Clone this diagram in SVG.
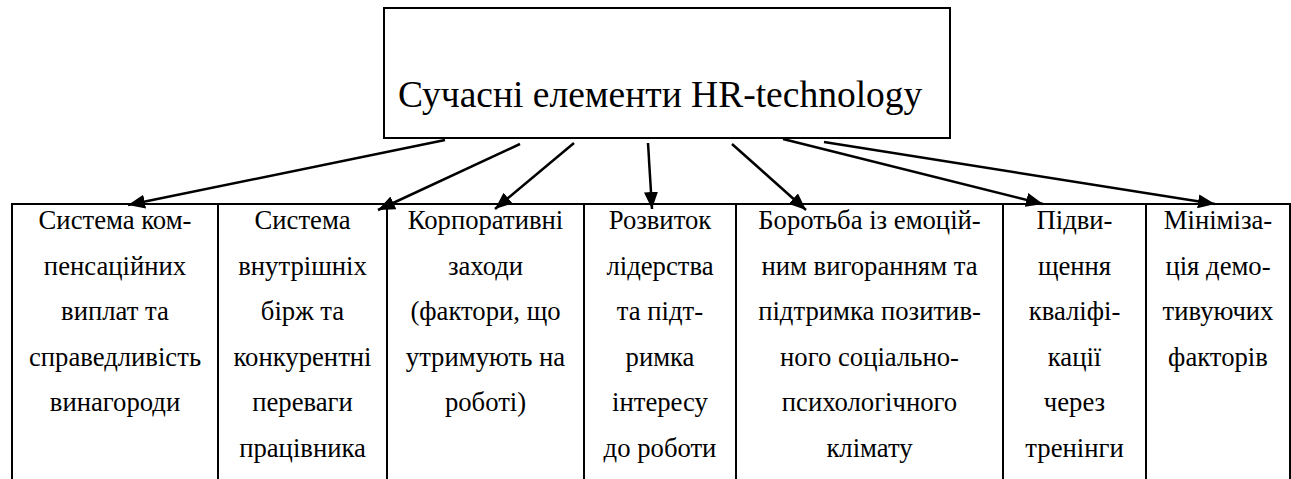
<svg xmlns="http://www.w3.org/2000/svg" width="1291" height="479" viewBox="0 0 1291 479">
<defs>
<style>
.box{fill:#fff;stroke:#000;stroke-width:2}
.t{font-family:'Liberation Serif','Times New Roman',serif;font-size:26.7px;fill:#000;text-anchor:middle}
.title{font-family:'Liberation Serif','Times New Roman',serif;font-size:37.5px;fill:#000}
.c{stroke:#000;stroke-width:2.5;fill:none;marker-end:url(#ah)}
</style>
<marker id="ah" markerUnits="userSpaceOnUse" markerWidth="18" markerHeight="14" refX="17" refY="7" orient="auto">
<path d="M0,0 L17,7 L0,14 z" fill="#000"/>
</marker>
</defs>
<rect width="1291" height="479" fill="#fff"/>
<g id="root">
<rect class="box" x="384" y="8" width="566" height="130"/>
<text class="title" x="398" y="107">Сучасні елементи HR-technology</text>
</g>
<g id="n1">
<rect class="box" x="12" y="204" width="206" height="290"/>
<text class="t"><tspan x="115" y="229">Система ком-</tspan><tspan x="115" y="274.6">пенсаційних</tspan><tspan x="115" y="320.2">виплат та</tspan><tspan x="115" y="365.8">справедливість</tspan><tspan x="115" y="411.4">винагороди</tspan></text>
</g>
<g id="n2">
<rect class="box" x="218" y="204" width="169" height="290"/>
<text class="t"><tspan x="302.5" y="229">Система</tspan><tspan x="302.5" y="274.6">внутрішніх</tspan><tspan x="302.5" y="320.2">бірж та</tspan><tspan x="302.5" y="365.8">конкурентні</tspan><tspan x="302.5" y="411.4">переваги</tspan><tspan x="302.5" y="457">працівника</tspan></text>
</g>
<g id="n3">
<rect class="box" x="387" y="204" width="197" height="290"/>
<text class="t"><tspan x="485.5" y="229">Корпоративні</tspan><tspan x="485.5" y="274.6">заходи</tspan><tspan x="485.5" y="320.2">(фактори, що</tspan><tspan x="485.5" y="365.8">утримують на</tspan><tspan x="485.5" y="411.4">роботі)</tspan></text>
</g>
<g id="n4">
<rect class="box" x="584" y="204" width="152" height="290"/>
<text class="t"><tspan x="660" y="229">Розвиток</tspan><tspan x="660" y="274.6">лідерства</tspan><tspan x="660" y="320.2">та підт-</tspan><tspan x="660" y="365.8">римка</tspan><tspan x="660" y="411.4">інтересу</tspan><tspan x="660" y="457">до роботи</tspan></text>
</g>
<g id="n5">
<rect class="box" x="736" y="204" width="267" height="290"/>
<text class="t"><tspan x="869.5" y="229">Боротьба із емоцій-</tspan><tspan x="869.5" y="274.6">ним вигоранням та</tspan><tspan x="869.5" y="320.2">підтримка позитив-</tspan><tspan x="869.5" y="365.8">ного соціально-</tspan><tspan x="869.5" y="411.4">психологічного</tspan><tspan x="869.5" y="457">клімату</tspan></text>
</g>
<g id="n6">
<rect class="box" x="1003" y="204" width="143" height="290"/>
<text class="t"><tspan x="1074.5" y="229">Підви-</tspan><tspan x="1074.5" y="274.6">щення</tspan><tspan x="1074.5" y="320.2">кваліфі-</tspan><tspan x="1074.5" y="365.8">кації</tspan><tspan x="1074.5" y="411.4">через</tspan><tspan x="1074.5" y="457">тренінги</tspan></text>
</g>
<g id="n7">
<rect class="box" x="1146" y="204" width="144" height="290"/>
<text class="t"><tspan x="1218" y="229">Мініміза-</tspan><tspan x="1218" y="274.6">ція демо-</tspan><tspan x="1218" y="320.2">тивуючих</tspan><tspan x="1218" y="365.8">факторів</tspan></text>
</g>
<g id="connectors">
<line class="c" x1="445" y1="140" x2="128" y2="205"/>
<line class="c" x1="520" y1="144" x2="378" y2="210"/>
<line class="c" x1="574" y1="143" x2="495" y2="209"/>
<line class="c" x1="648" y1="143" x2="652" y2="209"/>
<line class="c" x1="732" y1="144" x2="806" y2="210"/>
<line class="c" x1="783" y1="139" x2="1043" y2="204"/>
<line class="c" x1="824" y1="142" x2="1215" y2="204"/>
</g>
</svg>
